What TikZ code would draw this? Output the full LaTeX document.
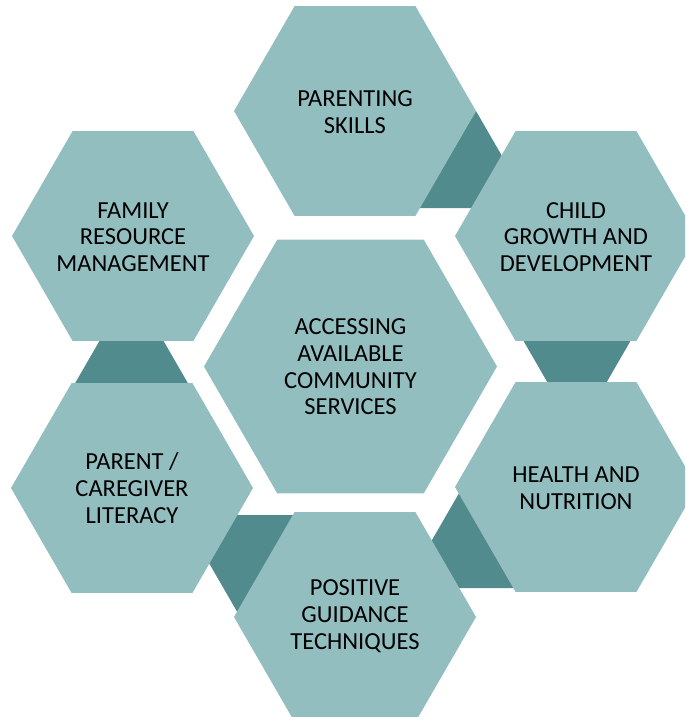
\documentclass[tikz,border=0pt]{standalone}
\usepackage{fontspec}
\setmainfont{Carlito}
\definecolor{hexlight}{RGB}{147,190,192}
\definecolor{hexdark}{RGB}{82,139,141}
\definecolor{hexink}{RGB}{0,0,0}
\newcommand\hexshape[3]{%
  \fill[hexfill] ({#1-#3},#2) -- ({#1-#3/2},{#2-0.8660254*#3}) -- ({#1+#3/2},{#2-0.8660254*#3}) -- ({#1+#3},#2) -- ({#1+#3/2},{#2+0.8660254*#3}) -- ({#1-#3/2},{#2+0.8660254*#3}) -- cycle;}
\tikzset{
  hexfill/.style={fill=hexlight},
  linkfill/.style={fill=hexdark},
  hextext/.style={align=center, text=hexink, inner sep=0pt, font=\fontsize{24.5pt}{26.7pt}\selectfont},
}
\begin{document}
\begin{tikzpicture}[x=1pt,y=-1pt]
\useasboundingbox (0,0) rectangle (685,717);
\clip (0,0) rectangle (685,717);
% dark links
\fill[linkfill] (476,111) -- (527.4,200) -- (527,208) -- (418,208) -- cycle;
\fill[linkfill] (520.1,335) -- (633.9,335) -- (603.3,388) -- (550.7,388) -- cycle;
\fill[linkfill] (472.4,470) -- (420.5,560) -- (450,588) -- (520,588) -- cycle;
\fill[linkfill] (232,515) -- (298,515) -- (253.4,640) -- (195.7,540) -- cycle;
\fill[linkfill] (102.9,335) -- (160.1,335) -- (190.7,388) -- (72.3,388) -- cycle;
% hexagons
\hexshape{355}{111}{121}
\hexshape{576}{236}{121}
\hexshape{576}{487}{121}
\hexshape{355}{617}{121}
\hexshape{132}{488}{121}
\hexshape{133}{236}{121}
\hexshape{350.5}{366.5}{146.5}
% texts
\node[hextext] (parenting) at (355,112) {PARENTING\\SKILLS};
\node[hextext] (child) at (576,237) {CHILD\\GROWTH AND\\DEVELOPMENT};
\node[hextext] (health) at (576,488) {HEALTH AND\\NUTRITION};
\node[hextext] (positive) at (355,616) {POSITIVE\\GUIDANCE\\TECHNIQUES};
\node[hextext] (literacy) at (132,488) {PARENT /\\CAREGIVER\\LITERACY};
\node[hextext] (family) at (133,237) {FAMILY\\RESOURCE\\MANAGEMENT};
\node[hextext] (center) at (350.5,367) {ACCESSING\\AVAILABLE\\COMMUNITY\\SERVICES};
\end{tikzpicture}
\end{document}
